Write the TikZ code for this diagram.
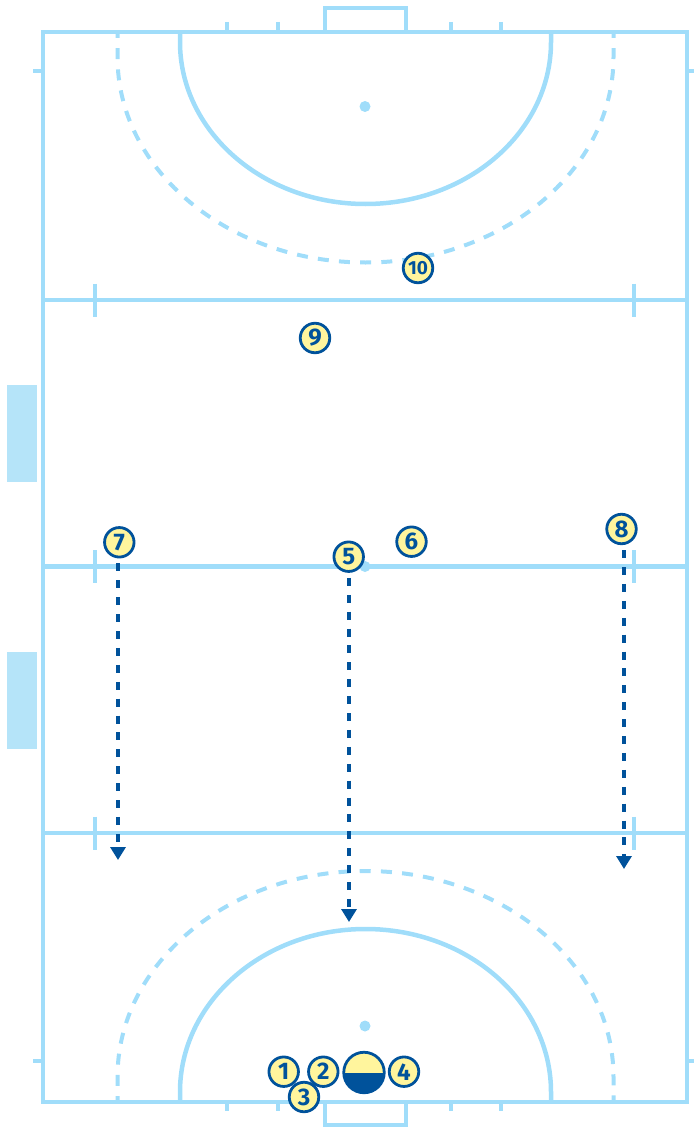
\documentclass[tikz,border=0pt]{standalone}
\usepackage{fontspec}
\setmainfont{Fira Sans}
\usetikzlibrary{arrows.meta}
\definecolor{courtblue}{HTML}{A0DDFA}
\definecolor{benchblue}{HTML}{B5E4F9}
\definecolor{darkblue}{HTML}{00529B}
\definecolor{shirtyellow}{HTML}{FFF59D}
\tikzset{
  court/.style={draw=courtblue,line width=4.5pt},
  tick/.style={draw=courtblue,line width=4pt},
  courtdash/.style={court,line width=4pt,dash pattern=on 11pt off 10.2pt,dash phase=5pt},
  player/.style={circle,draw=darkblue,fill=shirtyellow,line width=2.8pt,minimum size=29.5pt,inner sep=0pt,text=darkblue,font=\fontsize{24}{24}\selectfont\bfseries},
  run/.style={draw=darkblue,line width=3.6pt,dash pattern=on 8pt off 8.9pt,shorten <=5pt,-{Triangle[length=13pt,width=15pt,fill=darkblue]}}
}
\begin{document}
\begin{tikzpicture}[x=1pt,y=-1pt]
\useasboundingbox (0,0) rectangle (694,1129);
\fill[benchblue] (7,385) rectangle (37,482);
\fill[benchblue] (7,652) rectangle (37,749);
%goals and ticks
\draw[tick] (324.5,32) -- (324.5,8.5) -- (405.5,8.5) -- (405.5,32);
\draw[tick] (324.5,1102) -- (324.5,1125) -- (405.5,1125) -- (405.5,1102);
\foreach \x in {227,278,451,501} {
  \draw[tick] (\x,22) -- (\x,32);
  \draw[tick] (\x,1102) -- (\x,1111);
}
\foreach \y in {71,1061} {
  \draw[tick] (33,\y) -- (43,\y);
  \draw[tick] (687,\y) -- (694,\y);
}
\draw[court] (43,32) rectangle (687,1102);
\foreach \y in {300,566.5,833} {
  \draw[court] (43,\y) -- (687,\y);
  \draw[tick] (95,\y-16.5) -- (95,\y+16.5);
  \draw[tick] (633.5,\y-16.5) -- (633.5,\y+16.5);
}
%goal areas
\draw[court] (180,32) -- (180,42) arc[start angle=180,end angle=360,x radius=185.5pt,y radius=162pt] -- (551,32);
\draw[court] (180,1102) -- (180,1092) arc[start angle=180,end angle=0,x radius=185.5pt,y radius=163pt] -- (551,1102);
\draw[courtdash] (117.5,32) -- (117.5,57) arc[start angle=180,end angle=360,x radius=248pt,y radius=205.5pt] -- (613.5,32);
\draw[courtdash] (117.5,1102) -- (117.5,1077) arc[start angle=180,end angle=0,x radius=248pt,y radius=206pt] -- (613.5,1102);
\foreach \y in {106.5,566.5,1026} {
  \fill[courtblue] (365,\y) circle (5.5pt);
}
%players
\node[player] (n1) at (283.7,1071.7) {1};
\node[player] (n2) at (323.3,1071.7) {2};
\node[player] (n3) at (304,1097) {3};
\node[player] (n4) at (404,1071.7) {4};
\node[player] (n5) at (348.7,556.7) {5};
\node[player] (n6) at (411.5,541.7) {6};
\node[player] (n7) at (119.3,542.3) {7};
\node[player] (n8) at (621.5,529) {8};
\node[player] (n9) at (315,338) {9};
\node[player,font=\fontsize{19}{19}\selectfont\bfseries] (n10) at (418,268) {10};
\node[circle,draw=darkblue,fill=shirtyellow,line width=2.8pt,minimum size=40.5pt,inner sep=0pt,path picture={\fill[darkblue] (path picture bounding box.west) rectangle (path picture bounding box.south east);}] (ball) at (364,1072.5) {};
%runs
\coordinate (end7) at (118,860);
\coordinate (end5) at (349,922);
\coordinate (end8) at (624,869);
\draw[run] (n7.south -| end7) -- (end7);
\draw[run] (n5.south -| end5) -- (end5);
\draw[run] (n8.south -| end8) -- (end8);
\end{tikzpicture}
\end{document}
